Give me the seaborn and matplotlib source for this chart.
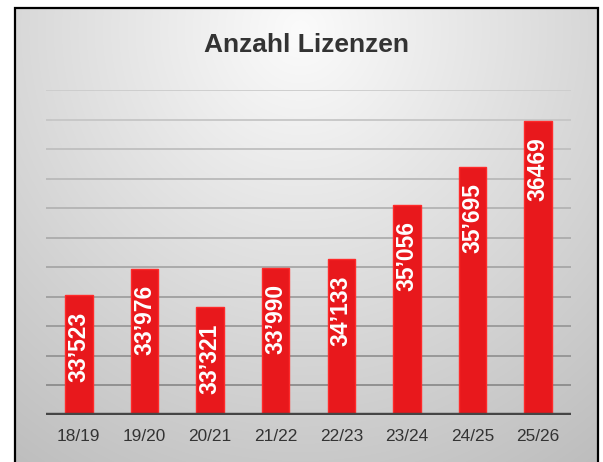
import numpy as np
import pandas as pd
import matplotlib
matplotlib.use("Agg")
import matplotlib.pyplot as plt
from matplotlib.patches import Rectangle
import seaborn as sns

# Data
seasons = ["18/19", "19/20", "20/21", "21/22", "22/23", "23/24", "24/25", "25/26"]
licences = [33523, 33976, 33321, 33990, 34133, 35056, 35695, 36469]
labels = ["33’523", "33’976", "33’321", "33’990", "34’133", "35’056", "35’695", "36469"]
title = "Anzahl Lizenzen"

sns.set_theme(style="white")
plt.rcParams["font.family"] = ["Liberation Sans", "DejaVu Sans"]

W, H = 603, 462
fig = plt.figure(figsize=(W / 100, H / 100), dpi=100)
fig.patch.set_facecolor("white")

# Background gradient inside frame
bg = fig.add_axes([0, 0, 1, 1], zorder=0)
yy, xx = np.mgrid[0:H, 0:W]
d = np.sqrt(((xx - 300) / 1.0) ** 2 + ((yy - 30) / 1.05) ** 2)
v = 0.985 - 0.24 * (d / 500.0)
v = np.clip(v, 0, 1)
inside = (xx >= 15) & (xx <= 598) & (yy >= 8)
v = np.where(inside, v, 1.0)
img = np.dstack([v, v, v])
bg.imshow(img, extent=[0, W, H, 0], aspect="auto", interpolation="bilinear")
bg.set_xlim(0, W)
bg.set_ylim(H, 0)
bg.axis("off")

# Frame
fig.patches.append(Rectangle((15 / W, -0.05), (598 - 15) / W, (H - 8) / H + 0.05,
                             transform=fig.transFigure, fill=False,
                             edgecolor="black", linewidth=1.6, zorder=5))

# Main axes
ax = fig.add_axes([46 / W, 47 / H, 525 / W, 325 / H], zorder=1)
ax.patch.set_alpha(0)

df = pd.DataFrame({"season": seasons, "licences": licences})

# gridlines
ymin, ymax = 31500, 37000
grid_vals = np.arange(ymin + 500, ymax + 1, 500)
for i, gv in enumerate(grid_vals):
    frac = i / (len(grid_vals) - 1)
    c = 0.55 + 0.25 * frac
    ax.axhline(gv, color=(c, c, c), linewidth=1.3, zorder=0.5)

sns.barplot(data=df, x="season", y="licences", ax=ax, color="#e8181c",
            width=0.42, saturation=1, edgecolor="#ff2a2a", linewidth=1.0, zorder=2)

ax.axhline(ymin, color="#454545", linewidth=3.2, zorder=3)

ax.set_xlim(-0.5, len(seasons) - 0.5)
ax.set_ylim(ymin, ymax)
ax.set_yticks([])
ax.set_xlabel("")
ax.set_ylabel("")
for s in ax.spines.values():
    s.set_visible(False)
ax.tick_params(axis="x", length=0, pad=10, labelsize=12.4, labelcolor="#333333")

for i, (val, lab) in enumerate(zip(licences, labels)):
    ax.annotate(lab, xy=(i, val), xytext=(0, -11.5), textcoords="offset points",
                rotation=90, ha="center", va="top", color="white",
                fontsize=16.5, fontweight="bold", zorder=4)

fig.text(307 / W, 1 - 45 / H, title, ha="center", va="center",
         fontsize=19, fontweight="bold", color="#333333", zorder=6)

fig.savefig("out.png", dpi=100)
